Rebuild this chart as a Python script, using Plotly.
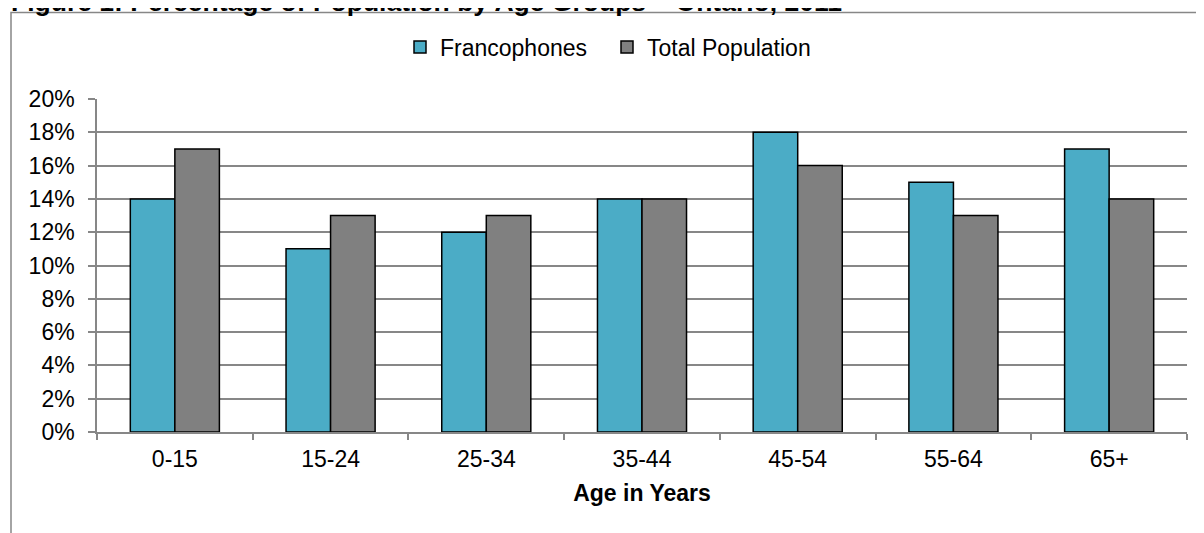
import plotly.graph_objects as go

categories = ["0-15", "15-24", "25-34", "35-44", "45-54", "55-64", "65+"]
francophones = [0.14, 0.11, 0.12, 0.14, 0.18, 0.15, 0.17]
total_population = [0.17, 0.13, 0.13, 0.14, 0.16, 0.13, 0.14]
y_ticks = [0, 0.02, 0.04, 0.06, 0.08, 0.10, 0.12, 0.14, 0.16, 0.18, 0.20]

FONT = "Liberation Sans, Arial, sans-serif"
GRID = "#878787"

fig = go.Figure()
fig.add_trace(go.Bar(name="Francophones", x=categories, y=francophones,
                     marker=dict(color="#4BACC6", line=dict(color="black", width=1.5))))
fig.add_trace(go.Bar(name="Total Population", x=categories, y=total_population,
                     marker=dict(color="#808080", line=dict(color="black", width=1.5))))

# figure is offset by the page's 8px body margin
OFF = 8
W, H = 1204 - OFF, 533 - OFF
L, R, T, B = 97 - OFF, 1204 - 1187, 99 - OFF, 533 - 432
pw, ph = W - L - R, H - T - B

def px(xwin):
    return (xwin - OFF - L) / pw

def py(ywin):
    return (H - B - (ywin - OFF)) / ph

fig.update_layout(
    width=W, height=H,
    margin=dict(l=L, r=R, t=T, b=B, pad=0),
    paper_bgcolor="white", plot_bgcolor="white",
    font=dict(family=FONT, size=23, color="black"),
    barmode="group", bargap=0.428, bargroupgap=0,
    showlegend=True,
    legend=dict(orientation="h", x=px(400), xanchor="left", y=py(47), yanchor="middle",
                entrywidth=162, entrywidthmode="pixels",
                font=dict(size=23), bgcolor="rgba(0,0,0,0)", itemclick=False),
    xaxis=dict(
        type="category", showline=True, linecolor=GRID, linewidth=1.5,
        ticks="outside", tickson="boundaries", ticklen=6, tickcolor=GRID, tickwidth=1.5,
        showgrid=False, tickfont=dict(size=23), ticklabelstandoff=6,
        title=dict(text="<b>Age in Years</b>", font=dict(size=23), standoff=14),
    ),
    yaxis=dict(
        range=[0, 0.2], tickvals=y_ticks, tickformat=".0%",
        showline=True, linecolor=GRID, linewidth=1.5,
        ticks="outside", ticklen=7, tickcolor=GRID, tickwidth=1.5,
        showgrid=True, gridcolor=GRID, gridwidth=1.5,
        zeroline=False, tickfont=dict(size=23), ticklabelstandoff=9,
    ),
    shapes=[dict(type="rect", xref="paper", yref="paper",
                 x0=px(11), x1=1.3, y0=-1, y1=py(12.5),
                 line=dict(color=GRID, width=1.5), fillcolor="rgba(0,0,0,0)", layer="below")],
    annotations=[dict(text="<b>Figure 1: Percentage of Population by Age Groups – Ontario, 2011</b>",
                      xref="paper", yref="paper", x=px(9), xanchor="left",
                      y=py(19.5), yanchor="bottom", showarrow=False,
                      font=dict(size=26.5, color="black"))],
)

fig.write_html("out.html")
